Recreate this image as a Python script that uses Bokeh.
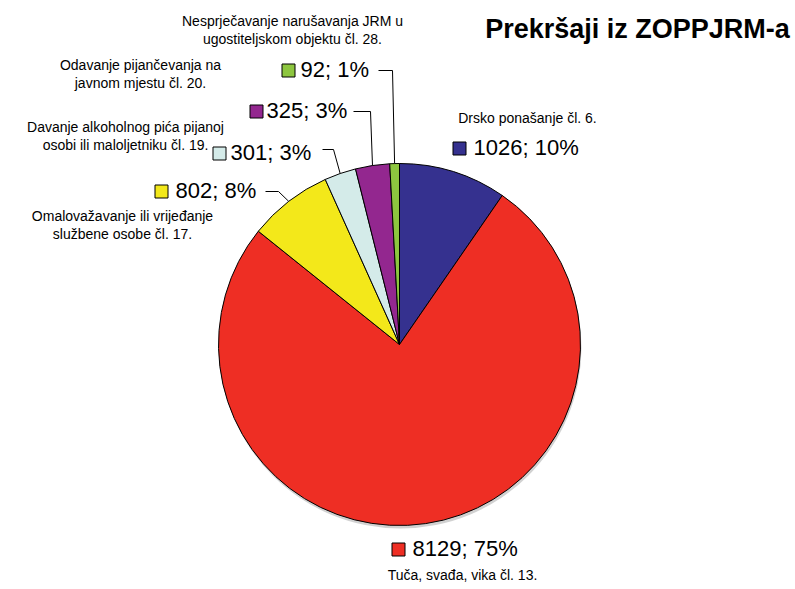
import numpy as np
from bokeh.plotting import figure
from bokeh.models import Range1d
from bokeh.core.properties import value
from bokeh.embed import file_html
from bokeh.resources import INLINE

# ---- data ----
categories = [
    "Drsko ponašanje čl. 6.",
    "Tuča, svađa, vika čl. 13.",
    "Omalovažavanje ili vrijeđanje\nslužbene osobe čl. 17.",
    "Davanje alkoholnog pića pijanoj\nosobi ili maloljetniku čl. 19.",
    "Odavanje pijančevanja na\njavnom mjestu čl. 20.",
    "Nesprječavanje narušavanja JRM u\nugostiteljskom objektu čl. 28.",
]
values = [1026, 8129, 802, 301, 325, 92]
pct_labels = ["10%", "75%", "8%", "3%", "3%", "1%"]
colors = ["#35318F", "#EE2E24", "#F3E81A", "#D4EBE9", "#93278F", "#8DC63F"]
title = "Prekršaji iz ZOPPJRM-a"

# ---- layout (screen px of the page) ----
W, H = 795, 589
def sx(px): return px
def sy(py): return H - py

cx, cy, r = sx(399), sy(344), 181

square_pos = [(459, 148), (398, 549), (161, 191), (219, 153), (256, 111), (288, 70)]
text_x = [473, 412, 175, 230, 266, 300]
cat_pos = [(527, 117), (462, 574), (122, 215), (125, 126), (140, 64), (292, 20)]
line_gap = 18
knees = {2: [(265, 191), (278, 191)], 3: [(322, 149), (333, 149)],
         4: [(353, 111), (370, 111)], 5: [(378, 70), (392, 70)]}

FONT = value("Liberation Sans")

p = figure(width=W, height=H, x_range=Range1d(0, W), y_range=Range1d(0, H),
           output_backend="svg", toolbar_location=None, min_border=0)
p.axis.visible = False
p.grid.visible = False
p.outline_line_color = None

vals = np.array(values, dtype=float)
cum = np.concatenate([[0.0], np.cumsum(vals)])
frac = cum / vals.sum()
start = np.pi / 2 - frac[:-1] * 2 * np.pi
end = np.pi / 2 - frac[1:] * 2 * np.pi

# soft shadow
p.circle(x=cx + 1, y=cy - 3, radius=r, fill_color="#999999", fill_alpha=0.45, line_color=None)
p.wedge(x=cx, y=cy, radius=r, start_angle=list(start), end_angle=list(end),
        direction="clock", fill_color=colors, line_color="black", line_width=1)

mid = (frac[:-1] + frac[1:]) / 2
theta = np.pi / 2 - mid * 2 * np.pi
ex = cx + r * np.cos(theta)
ey = cy + r * np.sin(theta)

xs, ys = [], []
for i, pts in knees.items():
    xs.append([sx(a) for a, b in pts] + [ex[i]])
    ys.append([sy(b) for a, b in pts] + [ey[i]])
p.multi_line(xs=xs, ys=ys, line_color="black", line_width=1)

# value labels with squares
p.scatter(x=[sx(a) for a, b in square_pos], y=[sy(b) for a, b in square_pos],
          marker="square", size=13, fill_color=colors, line_color="black", line_width=1)
vlabels = [f"{v}; {pc}" for v, pc in zip(values, pct_labels)]
p.text(x=[sx(a) for a in text_x], y=[sy(b) + 1 for a, b in square_pos], text=vlabels,
       text_font=FONT, text_font_size="22px", text_align="left", text_baseline="middle",
       text_color="black")

# category labels
lx, ly, lt = [], [], []
for (a, b), name in zip(cat_pos, categories):
    for k, line in enumerate(name.split("\n")):
        lx.append(sx(a)); ly.append(sy(b + k * line_gap)); lt.append(line)
p.text(x=lx, y=ly, text=lt, text_font=FONT, text_font_size="14px",
       text_align="center", text_baseline="middle", text_color="black")

# title
p.text(x=[sx(637)], y=[sy(28)], text=[title], text_font=FONT, text_font_size="27px",
       text_font_style="bold", text_align="center", text_baseline="middle", text_color="black")

open("out.html", "w").write(file_html(p, INLINE))
